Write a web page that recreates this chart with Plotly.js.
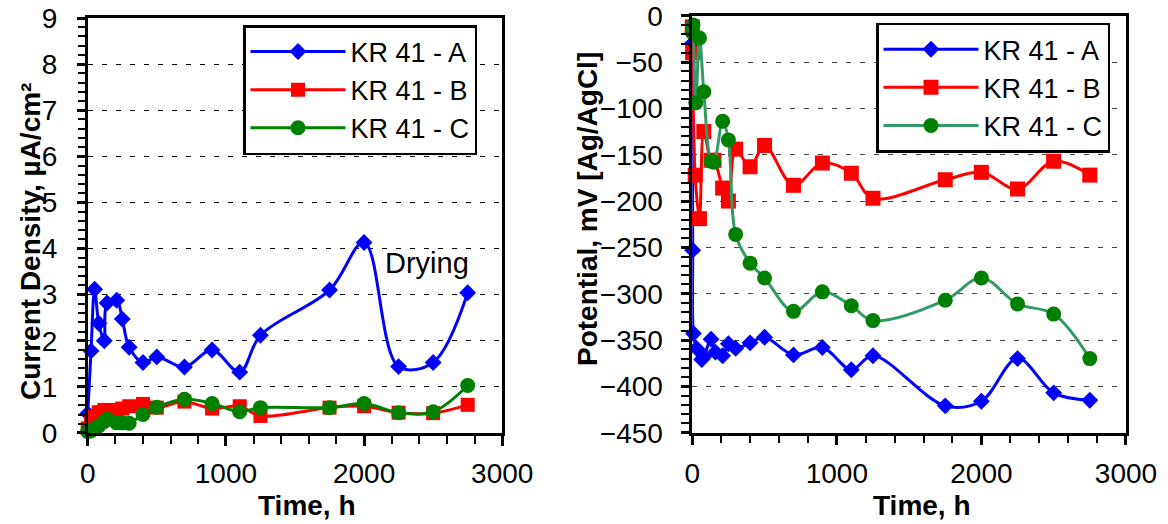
<!DOCTYPE html>
<html><head><meta charset="utf-8">
<script src="https://cdn.plot.ly/plotly-3.0.1.min.js"></script>
<style>html,body{margin:0;padding:0;background:#fff}#chart{width:1168px;height:524px}</style>
</head><body><div id="chart"></div><script>
// ---------- data ----------
const seriesNames = ['KR 41 - A', 'KR 41 - B', 'KR 41 - C'];

// Left chart: current density (µA/cm²) vs time (h)
const cdTimeA = [0, 24, 50, 80, 120, 140, 210, 250, 300, 400, 500, 700, 900, 1100, 1250, 1750, 2000, 2250, 2500, 2750];
const cdA     = [0.42, 1.78, 3.12, 2.38, 2.0, 2.82, 2.88, 2.47, 1.86, 1.53, 1.65, 1.43, 1.80, 1.32, 2.12, 3.10, 4.13, 1.44, 1.53, 3.04];
const cdTimeB = [0, 24, 50, 80, 120, 140, 210, 250, 300, 400, 500, 700, 900, 1100, 1250, 1750, 2000, 2250, 2500, 2750];
const cdB     = [0.10, 0.22, 0.35, 0.45, 0.50, 0.48, 0.50, 0.53, 0.58, 0.63, 0.55, 0.68, 0.53, 0.58, 0.37, 0.55, 0.58, 0.44, 0.43, 0.61];
const cdTimeC = [0, 24, 50, 80, 120, 140, 210, 250, 300, 400, 500, 700, 900, 1100, 1250, 1750, 2000, 2250, 2500, 2750];
const cdC     = [0.03, 0.05, 0.10, 0.15, 0.25, 0.30, 0.22, 0.22, 0.21, 0.40, 0.56, 0.73, 0.64, 0.46, 0.55, 0.55, 0.64, 0.44, 0.46, 1.03];

// Right chart: potential (mV vs Ag/AgCl) vs time (h)
const potTimeA = [0, 3, 8, 30, 65, 80, 130, 160, 210, 250, 300, 400, 500, 700, 900, 1100, 1250, 1750, 2000, 2250, 2500, 2750];
const potA     = [-30, -253, -343, -359, -371, -368, -349, -363, -367, -354, -359, -353, -347, -366, -358, -382, -367, -421, -416, -370, -407, -415];
const potTimeB = [0, 2, 20, 50, 80, 130, 150, 210, 250, 300, 400, 500, 700, 900, 1100, 1250, 1750, 2000, 2250, 2500, 2750];
const potB     = [-12, -40, -172, -219, -125, -156, -156, -186, -200, -144, -163, -140, -183, -159, -170, -197, -177, -169, -187, -157, -172];
const potTimeC = [0, 5, 24, 50, 80, 130, 150, 210, 250, 300, 400, 500, 700, 900, 1100, 1250, 1750, 2000, 2250, 2500, 2750];
const potC     = [-18, -10, -94, -24, -82, -157, -158, -114, -134, -236, -267, -283, -319, -298, -313, -329, -307, -283, -311, -322, -370];

const xTickVals = [0, 1000, 2000, 3000];
const cdTickVals = [0, 1, 2, 3, 4, 5, 6, 7, 8, 9];
const potTickVals = [0, -50, -100, -150, -200, -250, -300, -350, -400, -450];

// ---------- styles ----------
const FONT = 'Liberation Sans, Arial, Helvetica, sans-serif';
const BLUE = '#0000FF', RED = '#FF0000', GREEN = '#008000', TEAL = '#339966';

function tr(x, y, name, color, lineColor, symbol, size, xa, ya, legend) {
  return {
    x: x, y: y, name: name, type: 'scatter', mode: 'lines+markers',
    xaxis: xa, yaxis: ya, legend: legend, showlegend: true, cliponaxis: false,
    line: {color: lineColor, width: 3, shape: 'spline', smoothing: 1},
    marker: {color: color, symbol: symbol, size: size, line: {width: 0}},
    hoverinfo: 'x+y+name'
  };
}

const data = [
  tr(cdTimeA, cdA, seriesNames[0], BLUE, BLUE, 'diamond', 13, 'x', 'y', 'legend'),
  tr(cdTimeB, cdB, seriesNames[1], RED, RED, 'square', 14, 'x', 'y', 'legend'),
  tr(cdTimeC, cdC, seriesNames[2], GREEN, GREEN, 'circle', 15, 'x', 'y', 'legend'),
  tr(potTimeA, potA, seriesNames[0], BLUE, BLUE, 'diamond', 13, 'x2', 'y2', 'legend2'),
  tr(potTimeB, potB, seriesNames[1], RED, RED, 'square', 15, 'x2', 'y2', 'legend2'),
  tr(potTimeC, potC, seriesNames[2], GREEN, TEAL, 'circle', 15, 'x2', 'y2', 'legend2')
];

const tickFont = {family: FONT, size: 28, color: '#000'};
const titleFont = {family: FONT, size: 28, color: '#000', weight: 'bold'};

function xMain(domain, anchor) {
  return {
    domain: domain, anchor: anchor, range: [0, 3000], tickvals: xTickVals, ticktext: xTickVals.map(String),
    ticks: 'outside', ticklen: 10, tickwidth: 2.5, tickcolor: '#000',
    minor: {dtick: 200, ticks: 'outside', ticklen: 8, tickwidth: 2, tickcolor: '#000'},
    showline: true, linewidth: 2.5, linecolor: '#000', mirror: true,
    showgrid: false, zeroline: false, tickfont: tickFont, ticklabelstandoff: 4, fixedrange: true
  };
}
function xOver(over, anchor) {
  return {
    overlaying: over, anchor: anchor, range: [0, 3000], tickvals: xTickVals,
    ticks: 'inside', ticklen: 9, tickwidth: 2.5, tickcolor: '#000', showticklabels: false,
    showline: false, showgrid: false, zeroline: false, fixedrange: true
  };
}

const legendBase = {
  xanchor: 'left', yanchor: 'top',
  bgcolor: '#fff', bordercolor: '#000', borderwidth: 2.5,
  font: {family: FONT, size: 27, color: '#000'}, tracegroupgap: 0, itemwidth: 95
};

const layout = {
  width: 1168, height: 524,
  margin: {l: 0, r: 0, t: 0, b: 0},
  paper_bgcolor: '#fff', plot_bgcolor: '#fff',
  font: {family: FONT, color: '#000'},
  hovermode: 'closest',
  xaxis: xMain([0.0751, 0.4300], 'y'),
  xaxis3: xOver('x', 'y'),
  xaxis2: xMain([0.5927, 0.9640], 'y2'),
  xaxis4: xOver('x2', 'y2'),
  yaxis: {
    domain: [0.1737, 0.9656], anchor: 'x', range: [0, 9], tickvals: cdTickVals,
    ticks: 'outside', ticklen: 8, tickwidth: 2.5, tickcolor: '#000',
    minor: {dtick: 0.2, ticks: 'outside', ticklen: 7, tickwidth: 2, tickcolor: '#000'},
    showline: true, linewidth: 2.5, linecolor: '#000', mirror: true,
    showgrid: true, gridcolor: '#000', gridwidth: 1.3, griddash: '5px,9px',
    zeroline: false, tickfont: tickFont, ticklabelstandoff: 14, fixedrange: true
  },
  yaxis2: {
    domain: [0.1742, 0.9700], anchor: 'x2', range: [-450, 0], tickvals: potTickVals,
    ticks: 'outside', ticklen: 9, tickwidth: 2.5, tickcolor: '#000',
    minor: {dtick: 10, ticks: 'outside', ticklen: 9, tickwidth: 2, tickcolor: '#000'},
    showline: true, linewidth: 2.5, linecolor: '#000', mirror: true,
    showgrid: true, gridcolor: '#444', gridwidth: 1.3, griddash: '5px,9px',
    zeroline: false, tickfont: tickFont, ticklabelstandoff: 12, fixedrange: true
  },
  yaxis4: {
    overlaying: 'y2', anchor: 'x2', range: [-450, 0], tickvals: potTickVals,
    ticks: 'inside', ticklen: 9, tickwidth: 2.5, tickcolor: '#000',
    minor: {dtick: 10, ticks: 'inside', ticklen: 9, tickwidth: 2, tickcolor: '#000'},
    showticklabels: false, showline: false, showgrid: false, zeroline: false, fixedrange: true
  },
  legend: Object.assign({x: 243 / 1168, y: 1 - 25 / 524}, legendBase),
  legend2: Object.assign({x: 876 / 1168, y: 1 - 22.7 / 524}, legendBase),
  annotations: [
    {text: 'Drying', xref: 'x', yref: 'y', x: 2453, y: 3.69, showarrow: false,
     xanchor: 'center', yanchor: 'middle', font: {family: FONT, size: 29, color: '#000'}},
    {text: 'Time, h', xref: 'paper', yref: 'paper', x: 307 / 1168, y: 1 - 505 / 524, showarrow: false,
     xanchor: 'center', yanchor: 'middle', font: titleFont},
    {text: 'Time, h', xref: 'paper', yref: 'paper', x: 922 / 1168, y: 1 - 505 / 524, showarrow: false,
     xanchor: 'center', yanchor: 'middle', font: titleFont},
    {text: 'Current Density, µA/cm²', xref: 'paper', yref: 'paper', x: 30 / 1168, y: 1 - 242 / 524,
     showarrow: false, textangle: -90, xanchor: 'center', yanchor: 'middle', font: titleFont},
    {text: 'Potential, mV [Ag/AgCl]', xref: 'paper', yref: 'paper', x: 587 / 1168, y: 1 - 209 / 524,
     showarrow: false, textangle: -90, xanchor: 'center', yanchor: 'middle', font: titleFont}
  ]
};

Plotly.newPlot('chart', data, layout, {displayModeBar: false, responsive: false});
</script></body></html>
